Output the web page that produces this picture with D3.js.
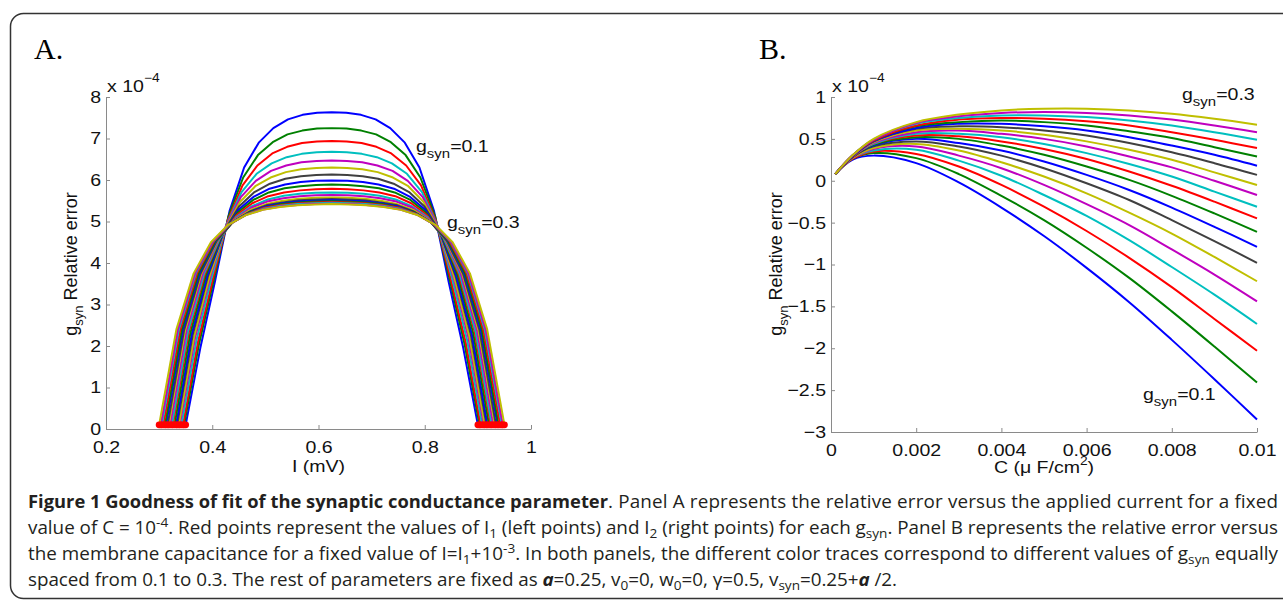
<!DOCTYPE html>
<html>
<head>
<meta charset="utf-8">
<script src="https://cdn.jsdelivr.net/npm/d3@7"></script>
<style>
  body { margin: 0; background: #fff; }
  .ax text { font-family: "Liberation Sans", Arial, sans-serif; font-size: 17px; fill: #111; }
  .ax path, .ax line { stroke: #8a8a8a; }
  .lbl { font-family: "Liberation Sans", Arial, sans-serif; fill: #111; }
  .cap { font-family: "Open Sans", sans-serif; font-size: 17.3px; fill: #231f20; }
</style>
</head>
<body>
<svg id="fig" width="1283" height="600"></svg>
<script>
// MATLAB default line colour order
var lineColors = ["#0000ff", "#008000", "#ff0000", "#00bfbf", "#bf00bf", "#bfbf00", "#404040"];

// ---- panel A : relative error vs I, 20 values of g_syn (0.1 -> 0.3)
var xTicksA = [0.2, 0.4, 0.6, 0.8, 1];
var yTicksA = [0, 1, 2, 3, 4, 5, 6, 7, 8];
// I1 (left red point) and I2 (right red point) of each trace
var startI = [0.350, 0.347, 0.345, 0.342, 0.339, 0.337, 0.334, 0.332, 0.329, 0.326,
              0.324, 0.321, 0.318, 0.316, 0.313, 0.311, 0.308, 0.305, 0.303, 0.300];
var endI   = [0.900, 0.903, 0.905, 0.908, 0.911, 0.913, 0.916, 0.918, 0.921, 0.924,
              0.926, 0.929, 0.932, 0.934, 0.937, 0.939, 0.942, 0.945, 0.947, 0.950];
// 21 samples per trace, evenly spaced between I1 and I2 (x 1e-4)
var errorA = [
  [0.10,1.95,3.55,5.25,6.30,6.90,7.25,7.46,7.57,7.62,7.63,7.62,7.57,7.46,7.25,6.90,6.30,5.25,3.55,1.95,0.10],
  [0.10,2.03,3.58,5.12,6.06,6.60,6.91,7.10,7.19,7.24,7.25,7.24,7.19,7.10,6.91,6.60,6.06,5.12,3.58,2.03,0.10],
  [0.10,2.09,3.61,5.02,5.87,6.35,6.64,6.80,6.89,6.93,6.94,6.93,6.89,6.80,6.64,6.35,5.87,5.02,3.61,2.09,0.10],
  [0.10,2.14,3.64,4.93,5.71,6.15,6.40,6.55,6.63,6.67,6.68,6.67,6.63,6.55,6.40,6.15,5.71,4.93,3.64,2.14,0.10],
  [0.10,2.19,3.66,4.86,5.58,5.98,6.22,6.35,6.43,6.46,6.47,6.46,6.43,6.35,6.22,5.98,5.58,4.86,3.66,2.19,0.10],
  [0.10,2.22,3.67,4.80,5.47,5.85,6.06,6.19,6.26,6.29,6.30,6.29,6.26,6.19,6.06,5.85,5.47,4.80,3.67,2.22,0.10],
  [0.10,2.26,3.69,4.74,5.36,5.71,5.91,6.03,6.09,6.12,6.13,6.12,6.09,6.03,5.91,5.71,5.36,4.74,3.69,2.26,0.10],
  [0.10,2.28,3.70,4.69,5.28,5.60,5.79,5.89,5.95,5.98,5.99,5.98,5.95,5.89,5.79,5.60,5.28,4.69,3.70,2.28,0.10],
  [0.10,2.30,3.71,4.66,5.21,5.52,5.70,5.80,5.85,5.88,5.89,5.88,5.85,5.80,5.70,5.52,5.21,4.66,3.71,2.30,0.10],
  [0.10,2.33,3.72,4.63,5.15,5.44,5.61,5.70,5.75,5.78,5.79,5.78,5.75,5.70,5.61,5.44,5.15,4.63,3.72,2.33,0.10],
  [0.10,2.34,3.73,4.60,5.10,5.37,5.53,5.62,5.67,5.69,5.70,5.69,5.67,5.62,5.53,5.37,5.10,4.60,3.73,2.34,0.10],
  [0.10,2.36,3.73,4.58,5.06,5.33,5.48,5.56,5.61,5.63,5.64,5.63,5.61,5.56,5.48,5.33,5.06,4.58,3.73,2.36,0.10],
  [0.10,2.37,3.74,4.55,5.02,5.28,5.42,5.50,5.55,5.57,5.58,5.57,5.55,5.50,5.42,5.28,5.02,4.55,3.74,2.37,0.10],
  [0.10,2.38,3.74,4.54,5.00,5.24,5.39,5.46,5.51,5.53,5.54,5.53,5.51,5.46,5.39,5.24,5.00,4.54,3.74,2.38,0.10],
  [0.10,2.38,3.74,4.53,4.98,5.22,5.36,5.44,5.48,5.50,5.51,5.50,5.48,5.44,5.36,5.22,4.98,4.53,3.74,2.38,0.10],
  [0.10,2.39,3.74,4.52,4.96,5.21,5.34,5.42,5.46,5.48,5.49,5.48,5.46,5.42,5.34,5.21,4.96,4.52,3.74,2.39,0.10],
  [0.10,2.39,3.75,4.52,4.95,5.19,5.33,5.40,5.44,5.46,5.47,5.46,5.44,5.40,5.33,5.19,4.95,4.52,3.75,2.39,0.10],
  [0.10,2.39,3.75,4.51,4.94,5.17,5.31,5.38,5.42,5.44,5.45,5.44,5.42,5.38,5.31,5.17,4.94,4.51,3.75,2.39,0.10],
  [0.10,2.40,3.75,4.50,4.93,5.16,5.29,5.36,5.40,5.42,5.43,5.42,5.40,5.36,5.29,5.16,4.93,4.50,3.75,2.40,0.10],
  [0.10,2.40,3.75,4.50,4.92,5.15,5.28,5.35,5.39,5.41,5.42,5.41,5.39,5.35,5.28,5.15,4.92,4.50,3.75,2.40,0.10]
];

// ---- panel B : relative error vs C, same 20 traces
var xTicksB = [0, 0.002, 0.004, 0.006, 0.008, 0.01];
var yTicksB = [1, 0.5, 0, -0.5, -1, -1.5, -2, -2.5, -3];
var capC = [0.0001, 0.0005, 0.001, 0.002, 0.003, 0.004, 0.005, 0.006, 0.007, 0.008, 0.009, 0.01];
var errorB = [
  [0.08,0.25,0.30,0.21,-0.02,-0.32,-0.66,-1.04,-1.45,-1.90,-2.37,-2.85],
  [0.08,0.26,0.33,0.27,0.08,-0.18,-0.47,-0.80,-1.16,-1.56,-1.98,-2.41],
  [0.08,0.26,0.35,0.32,0.17,-0.05,-0.31,-0.60,-0.92,-1.27,-1.65,-2.03],
  [0.08,0.27,0.36,0.37,0.24,0.06,-0.17,-0.42,-0.71,-1.03,-1.36,-1.71],
  [0.08,0.27,0.38,0.41,0.30,0.15,-0.05,-0.28,-0.53,-0.82,-1.12,-1.44],
  [0.08,0.27,0.39,0.44,0.36,0.22,0.05,-0.15,-0.38,-0.63,-0.91,-1.20],
  [0.08,0.28,0.41,0.47,0.41,0.30,0.15,-0.03,-0.23,-0.47,-0.72,-0.98],
  [0.08,0.28,0.42,0.50,0.45,0.36,0.23,0.07,-0.11,-0.32,-0.55,-0.79],
  [0.08,0.28,0.43,0.52,0.50,0.42,0.31,0.17,0.01,-0.18,-0.39,-0.61],
  [0.08,0.28,0.44,0.54,0.53,0.47,0.38,0.26,0.11,-0.06,-0.25,-0.45],
  [0.08,0.29,0.44,0.56,0.56,0.52,0.44,0.33,0.20,0.05,-0.13,-0.31],
  [0.08,0.29,0.45,0.58,0.60,0.56,0.50,0.41,0.29,0.16,0.00,-0.17],
  [0.08,0.29,0.46,0.60,0.62,0.60,0.55,0.47,0.37,0.25,0.10,-0.05],
  [0.08,0.29,0.47,0.62,0.65,0.64,0.60,0.54,0.45,0.34,0.21,0.07],
  [0.08,0.29,0.47,0.63,0.68,0.68,0.65,0.60,0.52,0.42,0.31,0.18],
  [0.08,0.30,0.48,0.65,0.70,0.72,0.70,0.66,0.59,0.51,0.40,0.29],
  [0.08,0.30,0.48,0.66,0.73,0.75,0.74,0.71,0.66,0.58,0.49,0.39],
  [0.08,0.30,0.49,0.68,0.75,0.78,0.78,0.76,0.72,0.66,0.58,0.49],
  [0.08,0.30,0.49,0.69,0.77,0.81,0.82,0.81,0.78,0.73,0.66,0.58],
  [0.08,0.30,0.50,0.70,0.79,0.84,0.86,0.86,0.84,0.80,0.74,0.67]
];

var svg = d3.select("#fig");
var stretch = 1.15;   // the published figure is a bit wider than tall

// figure frame (rounded box, right side runs off the page)
svg.append("rect")
  .attr("x", 10.5).attr("y", 13.5)
  .attr("width", 1300).attr("height", 585)
  .attr("rx", 13)
  .attr("fill", "none").attr("stroke", "#333").attr("stroke-width", 1.5);

var xA = d3.scaleLinear().domain([0.2, 1]).range([106, 531]);
var yA = d3.scaleLinear().domain([0, 8]).range([429, 97]);
var xB = d3.scaleLinear().domain([0, 0.01]).range([831, 1257]);
var yB = d3.scaleLinear().domain([-3, 1]).range([432, 97]);

// a text group placed at x,y and widened
function label(x, y) {
  return svg.append("g").attr("transform", "translate(" + x + "," + y + ") scale(" + stretch + ",1)")
    .append("text").attr("class", "lbl").style("font-size", "17px");
}

function drawAxes(x, y, xt, yt) {
  var y0 = y.range()[0], x0 = x.range()[0];
  svg.append("g").attr("class", "ax")
    .attr("transform", "translate(0," + y0 + ")")
    .call(d3.axisBottom(x).tickValues(xt).tickFormat(d3.format("")).tickSizeInner(-4).tickSizeOuter(0).tickPadding(12))
    .call(g => g.selectAll("text").attr("dy", "0.71em").attr("transform", "scale(" + stretch + ",1)"));
  svg.append("g").attr("class", "ax")
    .attr("transform", "translate(" + x0 + ",0)")
    .call(d3.axisLeft(y).tickValues(yt).tickFormat(d3.format("")).tickSizeInner(-4).tickSizeOuter(0).tickPadding(5))
    .call(g => g.selectAll("text").attr("x", -5 / stretch).attr("transform", "scale(" + stretch + ",1)"));
  svg.selectAll(".ax text").attr("fill", "#111");
  // "x 10^-4" exponent label
  var t = label(x0 + 1, y.range()[1] - 5);
  t.append("tspan").text("x 10");
  t.append("tspan").attr("dy", -10).style("font-size", "12px").text("\u22124");
}

function subText(t, before, after) {
  t.append("tspan").text(before);
  t.append("tspan").attr("dy", 6).style("font-size", "13px").text("syn");
  t.append("tspan").attr("dy", -6).text(after);
}

function yLabel(x, y) {
  var t = svg.append("text").attr("class", "lbl")
    .attr("text-anchor", "middle").style("font-size", "18px")
    .attr("transform", "translate(" + x + "," + y + ") rotate(-90)");
  subText(t, "g", " Relative error");
}

// ---------- panel A
svg.append("text").attr("x", 34).attr("y", 59)
  .style("font-family", "'Liberation Serif', 'Times New Roman', serif").style("font-size", "30px").text("A.");
drawAxes(xA, yA, xTicksA, yTicksA);

var lineA = d3.line().x(d => xA(d[0])).y(d => yA(d[1]));
errorA.forEach(function(vals, k) {
  var pts = vals.map((v, j) => [startI[k] + j * (endI[k] - startI[k]) / (vals.length - 1), v]);
  svg.append("path").datum(pts)
    .attr("d", lineA)
    .attr("fill", "none")
    .attr("stroke", lineColors[k % lineColors.length])
    .attr("stroke-width", 2)
    .attr("stroke-linejoin", "round");
});
// red points: I1 (left) and I2 (right) of each trace
errorA.forEach(function(vals, k) {
  [[startI[k], vals[0]], [endI[k], vals[vals.length - 1]]].forEach(function(p) {
    svg.append("circle").attr("cx", xA(p[0])).attr("cy", yA(p[1]))
      .attr("r", 3.4).attr("fill", "#ff0000");
  });
});

label((xA.range()[0] + xA.range()[1]) / 2, 472).attr("text-anchor", "middle").text("I (mV)");
yLabel(77, 264);
subText(label(416, 152), "g", "=0.1");
subText(label(447, 228), "g", "=0.3");

// ---------- panel B
svg.append("text").attr("x", 759).attr("y", 59)
  .style("font-family", "'Liberation Serif', 'Times New Roman', serif").style("font-size", "30px").text("B.");
drawAxes(xB, yB, xTicksB, yTicksB);

var lineB = d3.line().curve(d3.curveCatmullRom.alpha(0.5)).x(d => xB(d[0])).y(d => yB(d[1]));
errorB.forEach(function(vals, k) {
  svg.append("path").datum(vals.map((v, j) => [capC[j], v]))
    .attr("d", lineB)
    .attr("fill", "none")
    .attr("stroke", lineColors[k % lineColors.length])
    .attr("stroke-width", 2);
});

var cl = label((xB.range()[0] + xB.range()[1]) / 2, 473).attr("text-anchor", "middle");
cl.append("tspan").text("C (\u03bc F/cm");
cl.append("tspan").attr("dy", -8).style("font-size", "12px").text("2");
cl.append("tspan").attr("dy", 8).text(")");
yLabel(782, 264);
subText(label(1182, 100), "g", "=0.3");
subText(label(1143, 400), "g", "=0.1");

// ---------- caption (justified lines)
var capScale = 1.09;
var cap = svg.append("g").attr("transform", "translate(28,0) scale(" + capScale + ",1)");
function capLine(x, y, parts, width, squeeze) {
  var t = cap.append("text").attr("class", "cap").attr("x", x / capScale).attr("y", y);
  parts.forEach(function(p) {
    var s = t.append("tspan").text(p.t);
    if (p.b) s.style("font-weight", "bold");
    if (p.i) s.style("font-style", "italic");
    if (p.dy) s.attr("dy", p.dy);
    if (p.small) s.style("font-size", "12.5px");
  });
  t.attr("textLength", width / capScale).attr("lengthAdjust", squeeze ? "spacingAndGlyphs" : "spacing");
}
capLine(0, 508, [{t: "Figure 1 Goodness of fit of the synaptic conductance parameter", b: 1}], 580, true);
capLine(580, 508, [{t: ". Panel A represents the relative error versus the applied current for a fixed"}], 670);
capLine(0, 534, [
  {t: "value of C = 10"}, {t: "-4", dy: -7, small: 1},
  {t: ". Red points represent the values of I", dy: 7}, {t: "1", dy: 4, small: 1},
  {t: " (left points) and I", dy: -4}, {t: "2", dy: 4, small: 1},
  {t: " (right points) for each g", dy: -4}, {t: "syn", dy: 4, small: 1},
  {t: ". Panel B represents the relative error versus", dy: -4}
], 1250);
capLine(0, 560, [
  {t: "the membrane capacitance for a fixed value of I=I"}, {t: "1", dy: 4, small: 1},
  {t: "+10", dy: -4}, {t: "-3", dy: -7, small: 1},
  {t: ". In both panels, the different color traces correspond to different values of g", dy: 7},
  {t: "syn", dy: 4, small: 1},
  {t: " equally", dy: -4}
], 1250);
capLine(0, 586, [
  {t: "spaced from 0.1 to 0.3. The rest of parameters are fixed as "},
  {t: "a", b: 1, i: 1}, {t: "=0.25, v"}, {t: "0", dy: 4, small: 1},
  {t: "=0, w", dy: -4}, {t: "0", dy: 4, small: 1},
  {t: "=0, \u03b3=0.5, v", dy: -4}, {t: "syn", dy: 4, small: 1},
  {t: "=0.25+", dy: -4}, {t: "a", b: 1, i: 1}, {t: " /2."}
], 869);
</script>
</body>
</html>
